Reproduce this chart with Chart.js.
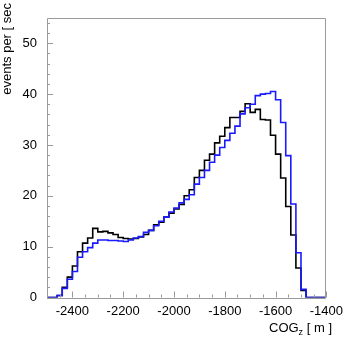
<!DOCTYPE html>
<html><head><meta charset="utf-8">
<script src="https://cdn.jsdelivr.net/npm/chart.js@4/dist/chart.umd.min.js"></script>
<style>html,body{margin:0;padding:0;background:#fff}#wrap{width:349px;height:339px}</style>
</head><body><div id="wrap"><canvas id="c" width="349" height="339"></canvas></div>
<script>
// Bin lower edges (20 m bins from -2500 to -1400)
const binStart = -2500;
const binWidth = 20;
const blackCounts = [0,0,0,0.4,2.0,4.0,6.2,9.0,10.7,11.7,13.6,12.9,13.0,12.7,12.4,11.8,11.6,11.5,11.6,11.9,12.4,13.2,14.3,14.8,15.8,16.6,17.4,18.3,20.0,21.2,23.6,25.0,27.0,28.2,30.4,31.7,33.4,35.4,35.4,36.6,38.1,36.4,37.0,35.0,34.9,31.9,28.2,23.5,17.9,12.3,5.8,1.4,0,0,0];
const blueCounts  = [0,0,0,0.4,1.8,3.6,5.1,7.9,9.0,9.8,10.7,11.3,11.3,11.2,11.2,11.1,11.0,11.3,11.7,12.0,12.8,13.2,14.1,15.0,15.8,16.8,17.6,18.6,19.3,20.2,22.3,23.6,25.0,26.6,28.0,29.5,30.9,32.3,33.7,36.1,37.3,38.0,39.7,40.0,40.1,40.5,38.9,34.4,27.9,18.4,8.8,1.6,0,0,0];
const xTicks = [-2400,-2200,-2000,-1800,-1600,-1400];
const yTicks = [0,10,20,30,40,50];
const xRange = [-2500,-1400];
const yRange = [0,55];

function toPoints(counts){
  const pts = counts.map((v,i)=>({x: binStart + i*binWidth, y: v}));
  pts.push({x: binStart + counts.length*binWidth, y: counts[counts.length-1]});
  return pts;
}

const FONT = '"Liberation Sans", Arial, sans-serif';

const decor = {
  id: 'decor',
  afterDraw(chart){
    const {ctx, chartArea: a, scales: {x, y}} = chart;
    ctx.save();
    ctx.strokeStyle = '#9a9a9a';
    ctx.lineWidth = 1;
    ctx.beginPath();
    ctx.rect(Math.round(a.left)+0.5, Math.round(a.top)+0.5, Math.round(a.right-a.left)-1, Math.round(a.bottom-a.top));
    ctx.stroke();
    ctx.beginPath();
    for (let v = -2500; v <= -1400; v += 50) {
      const px = Math.round(x.getPixelForValue(v)) + 0.5;
      const len = (v % 200 === 0) ? 6 : 3;
      ctx.moveTo(px, a.bottom); ctx.lineTo(px, a.bottom - len);
    }
    for (let v = 0; v <= 55; v += 2) {
      const py = Math.round(y.getPixelForValue(v)) + 0.5;
      const len = (v % 10 === 0) ? 6 : 3;
      ctx.moveTo(a.left, py); ctx.lineTo(a.left + len, py);
    }
    ctx.stroke();
    // axis titles
    ctx.fillStyle = '#000';
    ctx.font = '13px ' + FONT;
    ctx.textBaseline = 'middle';
    ctx.save();
    ctx.translate(7, 3);
    ctx.rotate(-Math.PI/2);
    ctx.textAlign = 'right';
    ctx.fillText('events per [ sec', 0, 0);
    ctx.restore();
    // x title with subscript
    const right = 332, base = 332;
    ctx.textBaseline = 'alphabetic';
    ctx.textAlign = 'left';
    const p1 = 'COG', p3 = ' [ m ]';
    ctx.font = '13px ' + FONT;
    const w1 = ctx.measureText(p1).width, w3 = ctx.measureText(p3).width;
    ctx.font = '9px ' + FONT;
    const w2 = ctx.measureText('z').width;
    const start = right - (w1 + w2 + w3);
    ctx.font = '13px ' + FONT;
    ctx.fillText(p1, start, base);
    ctx.font = '9px ' + FONT;
    ctx.fillText('z', start + w1, base + 3);
    ctx.font = '13px ' + FONT;
    ctx.fillText(p3, start + w1 + w2, base);
    ctx.restore();
  }
};

new Chart(document.getElementById('c'), {
  type: 'line',
  data: {
    datasets: [
      { label: 'blue', data: toPoints(blueCounts), borderColor: '#1a1aff', borderWidth: 1.6, stepped: 'after', pointRadius: 0, fill: false, order: 0 },
      { label: 'black', data: toPoints(blackCounts), borderColor: '#000000', borderWidth: 1.6, stepped: 'after', pointRadius: 0, fill: false, order: 1 }
    ]
  },
  options: {
    responsive: false,
    animation: false,
    events: [],
    layout: { padding: { left: 0, top: 3, right: 16, bottom: 0 } },
    plugins: { legend: { display: false }, tooltip: { enabled: false } },
    scales: {
      x: {
        type: 'linear', min: xRange[0], max: xRange[1],
        grid: { display: false, drawTicks: false }, border: { display: false },
        afterBuildTicks: s => { s.ticks = xTicks.map(v => ({value: v})); },
        afterFit: s => { s.height = 41.5; },
        ticks: { color: '#000', font: { family: FONT, size: 13 }, padding: 6, maxRotation: 0, autoSkip: false,
                 callback: v => String(v) }
      },
      y: {
        type: 'linear', min: yRange[0], max: yRange[1],
        grid: { display: false, drawTicks: false }, border: { display: false },
        afterBuildTicks: s => { s.ticks = yTicks.map(v => ({value: v})); },
        afterFit: s => { s.width = 47; },
        ticks: { color: '#000', font: { family: FONT, size: 13 }, padding: 10, callback: v => String(v) }
      }
    }
  },
  plugins: [decor]
});
</script></body></html>
